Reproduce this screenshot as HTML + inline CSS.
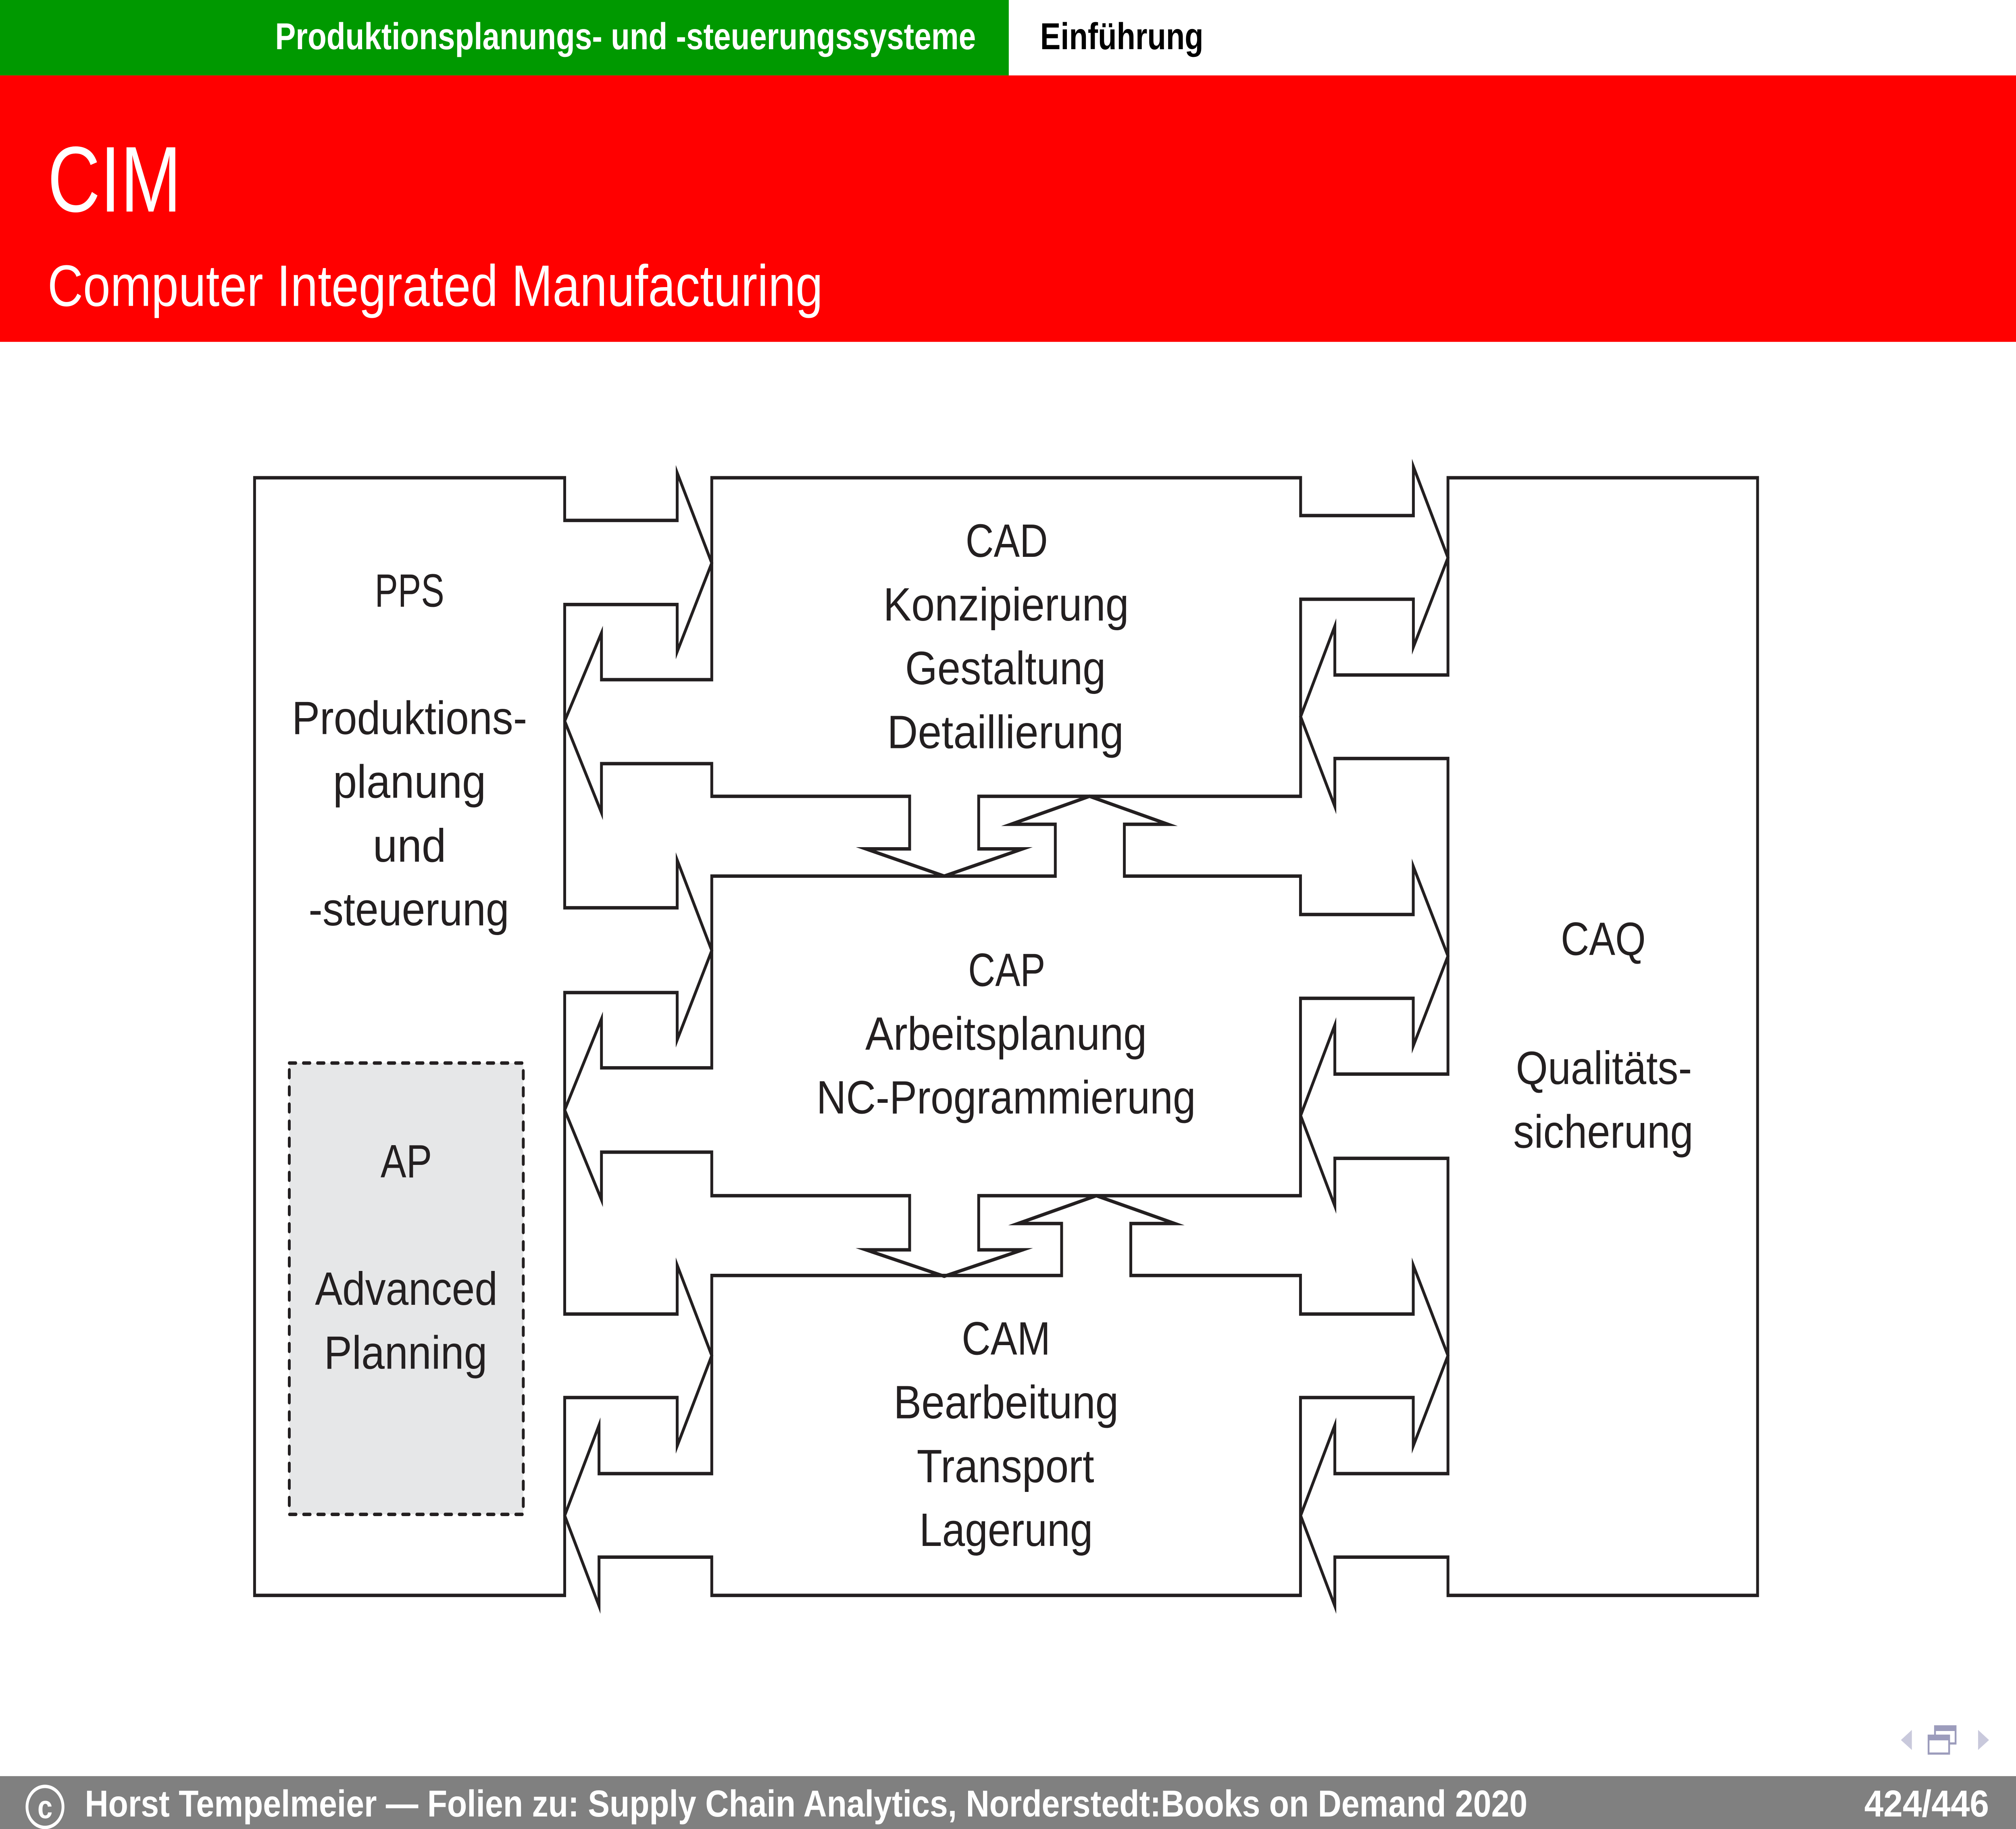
<!DOCTYPE html>
<html>
<head>
<meta charset="utf-8">
<style>
html,body{margin:0;padding:0;background:#fff;width:100%;height:100%;overflow:hidden;}
svg{display:block;width:100vw;height:100vh;}
</style>
</head>
<body>
<svg xmlns="http://www.w3.org/2000/svg" viewBox="0 0 1568 1176" preserveAspectRatio="none">
  <rect x="0" y="0" width="1568" height="1176" fill="#ffffff"/>

  <!-- Header -->
  <rect x="0" y="0" width="784.6" height="48.5" fill="#009900"/>
  <rect x="0" y="48.5" width="1568" height="171.3" fill="#ff0000"/>
  <text x="214" y="31.6" font-family="'Liberation Sans', Arial, sans-serif" font-size="24" font-weight="bold" fill="#ffffff" textLength="545" lengthAdjust="spacingAndGlyphs">Produktionsplanungs- und -steuerungssysteme</text>
  <text x="809" y="31.6" font-family="'Liberation Sans', Arial, sans-serif" font-size="24" font-weight="bold" fill="#000000" textLength="127" lengthAdjust="spacingAndGlyphs">Einführung</text>
  <text x="37" y="136" font-family="'Liberation Sans', Arial, sans-serif" font-size="60" fill="#ffffff" textLength="104" lengthAdjust="spacingAndGlyphs">CIM</text>
  <text x="37" y="196.7" font-family="'Liberation Sans', Arial, sans-serif" font-size="37.6" fill="#ffffff" textLength="603" lengthAdjust="spacingAndGlyphs">Computer Integrated Manufacturing</text>

  <!-- AP dashed box -->
  <rect x="225" y="683.5" width="182" height="290.2" fill="#e6e7e8" stroke="#231f20" stroke-width="2.2" stroke-dasharray="5 6" stroke-linecap="round"/>

  <g fill="none" stroke="#231f20" stroke-width="2.2" stroke-miterlimit="10" stroke-linejoin="miter">
    <!-- PPS -->
    <path d="M198,307.2 H439.2 V334.6 H526.7 V304 L553.6,362 L526.7,419 V388.7 H439.2 V583.7 H526.7 V553 L553.6,611.2 L526.7,668.6 V638.2 H439.2 V844.9 H526.7 V813.5 L553.6,871.6 L526.7,929.7 V898.6 H439.2 V1025.8 H198 Z"/>
    <!-- CAD -->
    <path d="M553.6,307.2 H1011.6 V331.5 H1099.3 V300 L1126.2,358.6 L1099.3,416 V385.3 H1011.6 V512 H761.2 V545.8 H795.4 L734.4,563.3 L673.5,545.8 H707.5 V512 H553.6 V491 H467.8 V522.5 L439.2,463.6 L467.8,407 V437 H553.6 Z"/>
    <!-- CAP -->
    <path d="M553.6,563.3 H820.8 V530 H786.3 L847.4,512 L908.4,530 H874.5 V563.3 H1011.5 V588 H1099.2 V557 L1126.2,614.7 L1099.2,672.5 V641.9 H1011.5 V768.8 H761.2 V803.6 H795.4 L734.4,820.6 L673.5,803.6 H707.5 V768.8 H553.6 V740.8 H467.8 V771.4 L439.2,713.7 L467.8,655.2 V686.6 H553.6 Z"/>
    <!-- CAM -->
    <path d="M553.6,820.1 H825.7 V786.7 H791.8 L852.7,768.8 L913.7,786.7 H879.5 V820.1 H1011.5 V844.9 H1099.2 V813.5 L1126.2,871.6 L1099.2,929.7 V898.6 H1011.5 V1025.8 H553.6 V1001.2 H465.9 V1032.6 L439.2,974.5 L465.9,916.4 V947.5 H553.6 Z"/>
    <!-- CAQ -->
    <path d="M1126.2,307.2 H1367 V1025.8 H1126.2 V1001.2 H1038.2 V1032.6 L1011.6,974.5 L1038.2,916.4 V947.5 H1126.2 V744.8 H1038.2 V775.4 L1011.6,717.3 L1038.2,659.1 V690.6 H1126.2 V487.7 H1038.2 V518.5 L1011.6,460.8 L1038.2,402.6 V434 H1126.2 Z"/>
  </g>

  <!-- Diagram labels -->
  <g font-family="'Liberation Sans', Arial, sans-serif" font-size="30" fill="#231f20" text-anchor="middle">
    <text x="783" y="358" textLength="64" lengthAdjust="spacingAndGlyphs">CAD</text>
    <text x="782.5" y="399" textLength="191" lengthAdjust="spacingAndGlyphs">Konzipierung</text>
    <text x="782" y="440" textLength="156" lengthAdjust="spacingAndGlyphs">Gestaltung</text>
    <text x="782" y="481" textLength="184" lengthAdjust="spacingAndGlyphs">Detaillierung</text>

    <text x="783" y="634" textLength="60" lengthAdjust="spacingAndGlyphs">CAP</text>
    <text x="782.5" y="675" textLength="219" lengthAdjust="spacingAndGlyphs">Arbeitsplanung</text>
    <text x="782.5" y="716" textLength="295" lengthAdjust="spacingAndGlyphs">NC-Programmierung</text>

    <text x="782.5" y="871" textLength="69" lengthAdjust="spacingAndGlyphs">CAM</text>
    <text x="782.5" y="912" textLength="175" lengthAdjust="spacingAndGlyphs">Bearbeitung</text>
    <text x="782" y="953" textLength="138" lengthAdjust="spacingAndGlyphs">Transport</text>
    <text x="782.5" y="994" textLength="135" lengthAdjust="spacingAndGlyphs">Lagerung</text>

    <text x="318.5" y="390" textLength="54" lengthAdjust="spacingAndGlyphs">PPS</text>
    <text x="318.5" y="472" textLength="183" lengthAdjust="spacingAndGlyphs">Produktions-</text>
    <text x="318.5" y="513" textLength="119" lengthAdjust="spacingAndGlyphs">planung</text>
    <text x="318.5" y="554" textLength="57" lengthAdjust="spacingAndGlyphs">und</text>
    <text x="318" y="595" textLength="156" lengthAdjust="spacingAndGlyphs">-steuerung</text>

    <text x="316" y="757" textLength="40" lengthAdjust="spacingAndGlyphs">AP</text>
    <text x="316" y="839" textLength="142" lengthAdjust="spacingAndGlyphs">Advanced</text>
    <text x="315.5" y="880" textLength="127" lengthAdjust="spacingAndGlyphs">Planning</text>

    <text x="1247" y="614" textLength="66" lengthAdjust="spacingAndGlyphs">CAQ</text>
    <text x="1247.5" y="697" textLength="137" lengthAdjust="spacingAndGlyphs">Qualitäts-</text>
    <text x="1247" y="738" textLength="140" lengthAdjust="spacingAndGlyphs">sicherung</text>
  </g>

  <!-- Navigation icons -->
  <g>
    <polygon points="1487,1112.3 1478.5,1118.8 1487,1125.2" fill="#c9c9dc"/>
    <rect x="1505" y="1110" width="16" height="11" fill="none" stroke="#9c9cbc" stroke-width="1.4"/>
    <rect x="1505" y="1110" width="16" height="3" fill="#9c9cbc"/>
    <rect x="1500" y="1116" width="16" height="11.5" fill="#ffffff" stroke="#9c9cbc" stroke-width="1.4"/>
    <rect x="1500" y="1116" width="16" height="3" fill="#9c9cbc"/>
    <polygon points="1538.5,1112.3 1547,1118.8 1538.5,1125.2" fill="#c9c9dc"/>
  </g>

  <!-- Footer -->
  <rect x="0" y="1142" width="1568" height="34" fill="#808080"/>
  <ellipse cx="35" cy="1161.8" rx="14" ry="13.2" fill="none" stroke="#ffffff" stroke-width="2.2"/>
  <text x="35" y="1169" font-family="'Liberation Sans', Arial, sans-serif" font-size="21" font-weight="bold" fill="#ffffff" text-anchor="middle">c</text>
  <text x="66" y="1168" font-family="'Liberation Sans', Arial, sans-serif" font-size="24" font-weight="bold" fill="#ffffff" textLength="1122" lengthAdjust="spacingAndGlyphs">Horst Tempelmeier — Folien zu: Supply Chain Analytics, Norderstedt:Books on Demand 2020</text>
  <text x="1450" y="1168" font-family="'Liberation Sans', Arial, sans-serif" font-size="24" font-weight="bold" fill="#ffffff" textLength="97" lengthAdjust="spacingAndGlyphs">424/446</text>
</svg>
</body>
</html>
